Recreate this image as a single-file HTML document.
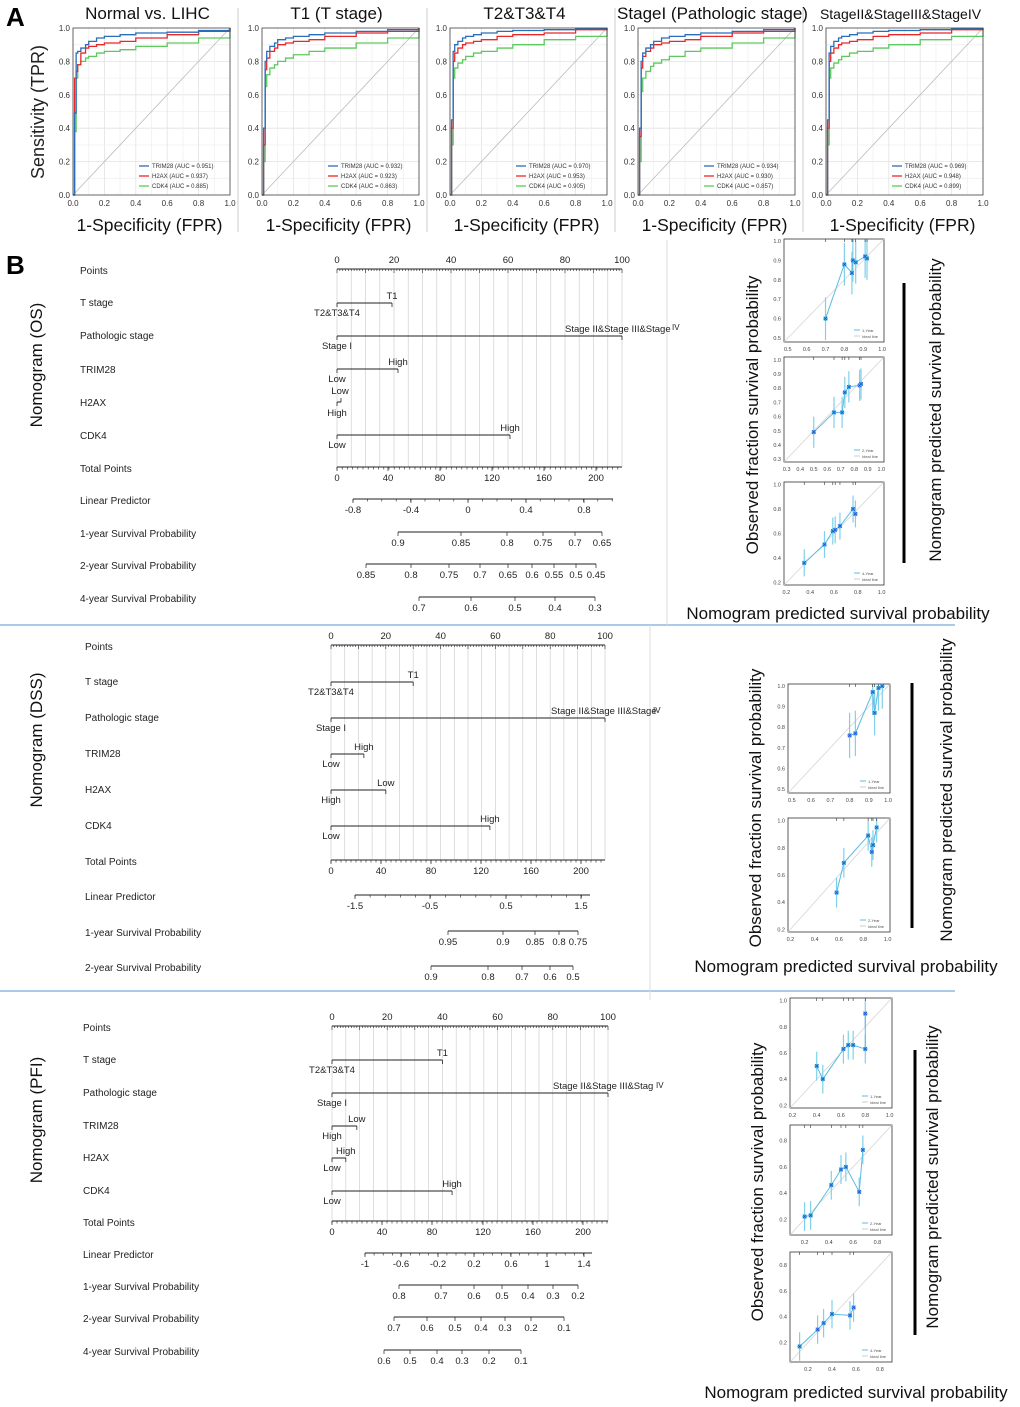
<!DOCTYPE html>
<html><head><meta charset="utf-8">
<style>
html,body{margin:0;padding:0;background:#fff;}
svg{display:block;font-family:"Liberation Sans",Arial,sans-serif;}
</style></head>
<body>
<svg id="fig" width="1020" height="1407" viewBox="0 0 1020 1407"></svg>
<script>
// ---------- ROC data ----------
const rocTitles=["Normal vs. LIHC","T1 (T stage)","T2&T3&T4","StageI (Pathologic stage)","StageII&StageIII&StageIV"];
const rocFpr=[0,0.01,0.02,0.03,0.05,0.08,0.1,0.15,0.2,0.3,0.4,0.6,0.8,1];
const trimTpr=[
[0,0.49,0.85,0.86,0.88,0.90,0.92,0.94,0.95,0.96,0.97,0.975,0.985,1],
[0,0.40,0.80,0.86,0.89,0.91,0.93,0.94,0.95,0.96,0.97,0.98,0.99,1],
[0,0.45,0.86,0.90,0.92,0.94,0.95,0.96,0.97,0.98,0.985,0.99,0.995,1],
[0,0.40,0.80,0.85,0.88,0.90,0.92,0.94,0.95,0.96,0.97,0.98,0.99,1],
[0,0.45,0.85,0.89,0.92,0.94,0.95,0.96,0.97,0.98,0.985,0.99,0.995,1]];
const h2axTpr=[
[0,0.70,0.74,0.78,0.85,0.88,0.89,0.90,0.91,0.92,0.94,0.96,0.98,1],
[0,0.30,0.75,0.82,0.86,0.88,0.90,0.91,0.92,0.93,0.95,0.97,0.98,1],
[0,0.40,0.80,0.85,0.88,0.90,0.91,0.92,0.93,0.95,0.96,0.97,0.99,1],
[0,0.35,0.76,0.83,0.86,0.88,0.90,0.91,0.92,0.93,0.95,0.97,0.98,1],
[0,0.40,0.80,0.85,0.88,0.90,0.91,0.92,0.93,0.95,0.96,0.97,0.99,1]];
const cdk4Tpr=[
[0,0.38,0.70,0.78,0.80,0.82,0.83,0.85,0.86,0.87,0.89,0.91,0.94,1],
[0,0.20,0.65,0.72,0.76,0.78,0.80,0.82,0.84,0.86,0.88,0.91,0.94,1],
[0,0.30,0.70,0.76,0.79,0.81,0.83,0.85,0.86,0.88,0.90,0.93,0.95,1],
[0,0.20,0.62,0.70,0.74,0.77,0.79,0.81,0.83,0.86,0.88,0.91,0.94,1],
[0,0.30,0.70,0.76,0.79,0.81,0.83,0.85,0.86,0.88,0.90,0.93,0.95,1]];
const aucTrim=["0.951","0.932","0.970","0.934","0.969"];
const aucH2ax=["0.937","0.923","0.953","0.930","0.948"];
const aucCdk4=["0.885","0.863","0.905","0.857","0.899"];
const rocTicks=[0,0.2,0.4,0.6,0.8,1.0];

// ---------- Calibration data ----------
const osPred1=[0.70,0.80,0.84,0.845,0.86,0.91,0.92], osObs1=[0.60,0.88,0.835,0.90,0.89,0.92,0.91];
const osPred2=[0.50,0.65,0.71,0.73,0.76,0.84,0.85], osObs2=[0.49,0.63,0.63,0.77,0.81,0.82,0.83];
const osPred3=[0.35,0.52,0.59,0.61,0.65,0.76,0.78], osObs3=[0.36,0.51,0.62,0.63,0.66,0.80,0.76];
const dssPred1=[0.80,0.83,0.92,0.93,0.95,0.97], dssObs1=[0.76,0.77,0.97,0.87,0.99,1.0];
const dssPred2=[0.58,0.64,0.84,0.87,0.88,0.91], dssObs2=[0.47,0.69,0.89,0.77,0.82,0.95];
const pfiPred1=[0.40,0.45,0.62,0.66,0.70,0.80,0.80], pfiObs1=[0.50,0.40,0.63,0.66,0.66,0.63,0.90];
const pfiPred2=[0.20,0.25,0.42,0.50,0.54,0.65,0.68], pfiObs2=[0.22,0.23,0.46,0.58,0.60,0.41,0.73];
const pfiPred3=[0.13,0.28,0.33,0.40,0.55,0.58], pfiObs3=[0.17,0.30,0.35,0.42,0.41,0.47];

const NS="http://www.w3.org/2000/svg";
const svg=document.getElementById('fig');
function mk(tag,a,p){const e=document.createElementNS(NS,tag);for(const k in a)e.setAttribute(k,a[k]);(p||svg).appendChild(e);return e;}
function T(p,x,y,s,size,anchor,extra){const e=mk('text',Object.assign({x:x,y:y,'font-size':size,'text-anchor':anchor||'start',fill:'#222'},extra||{}),p);e.textContent=s;return e;}
function L(p,x1,y1,x2,y2,c,w){return mk('line',{x1,y1,x2,y2,stroke:c||'#222','stroke-width':w||1},p);}
function grp(name){const g=mk('g',{});return g;}

// ---------- Panel A ----------
let lab=T(svg,6,26,"A",26,'start',{'font-weight':'bold',fill:'#000'});


let yl=T(svg,44,112,"Sensitivity (TPR)",18,'middle',{transform:'rotate(-90 44 112)'});


const rocX=[73,262,450,638,826];
const RW=157, RT=28, RH=167;
rocTitles.forEach((tt,i)=>{
  const g=grp('roc-plot-'+(i+1));
  const x0=rocX[i];
  const sx=v=>x0+v*RW, sy=v=>RT+RH-v*RH;
  if(i<4) L(g,x0+RW+8,8,x0+RW+8,232,'#ccc',1);
  mk('rect',{x:x0,y:RT,width:RW,height:RH,fill:'#fff',stroke:'none'},g);
  for(let k=0;k<=10;k++){const v=k/10;const c=k%2?'#f0f0f0':'#e2e2e2';
    L(g,sx(v),RT,sx(v),RT+RH,c,0.8);L(g,x0,sy(v),x0+RW,sy(v),c,0.8);}
  L(g,sx(0),sy(0),sx(1),sy(1),'#bbb',0.8);
  const series=[[cdk4Tpr[i],'#5cc95c'],[h2axTpr[i],'#e8282b'],[trimTpr[i],'#2a6ebb']];
  series.forEach(([tp,c])=>{
    let d='M'+sx(0)+' '+sy(0);let prev=0;
    for(let k=0;k<rocFpr.length;k++){d+=' L'+sx(rocFpr[k])+' '+sy(prev)+' L'+sx(rocFpr[k])+' '+sy(tp[k]);prev=tp[k];}
    const p=mk('path',{d:d,fill:'none',stroke:c,'stroke-width':1.3},g);
    
    
  });
  mk('rect',{x:x0,y:RT,width:RW,height:RH,fill:'none',stroke:'#444','stroke-width':0.8},g);
  rocTicks.forEach(v=>{
    T(g,sx(v),RT+RH+11,v.toFixed(1),8,'middle',{fill:'#333'});
    T(g,x0-3,sy(v)+3,v.toFixed(1),8,'end',{fill:'#333'});
  });
  const leg=[['TRIM28',aucTrim[i],'#2a6ebb'],['H2AX',aucH2ax[i],'#e8282b'],['CDK4',aucCdk4[i],'#5cc95c']];
  leg.forEach((l,k)=>{const ly=RT+RH-29+k*10;
    L(g,x0+66,ly,x0+76,ly,l[2],1.3);
    T(g,x0+79,ly+2,l[0]+' (AUC = '+l[1]+')',6,'start',{fill:'#333'});});
  T(g,x0+RW/2-4,19,tt,i===4?14:17,'middle',{fill:'#111'});
  T(g,x0+RW/2-2,231,"1-Specificity (FPR)",17.5,'middle',{fill:'#111'});
});

// ---------- Panel B ----------
lab=T(svg,6,274,"B",26,'start',{'font-weight':'bold',fill:'#000'});


let sep=L(svg,0,625,955,625,'#8fb8de',1.5);


sep=L(svg,0,991,955,991,'#8fb8de',1.5);


L(svg,667,240,667,625,'#ddd',1);
L(svg,650,625,650,1000,'#ddd',1);

function rowLabel(g,x,y,s){T(g,x,y+4,s,10,'start',{fill:'#222'});}
function pointsAxis(g,y,x0,x100){
  const sx=v=>x0+(x100-x0)*v/100;
  L(g,x0,y,x100,y,'#222',0.9);
  for(let v=0;v<=100;v++){const len=v%10===0?4:2;L(g,sx(v),y,sx(v),y+len,'#222',0.6);}
  for(let v=0;v<=100;v+=20)T(g,sx(v),y-6,String(v),9.5,'middle');
}
function grid(g,yTop,yBot,x0,x100){
  const sx=v=>x0+(x100-x0)*v/100;
  for(let v=0;v<=100;v+=5)L(g,sx(v),yTop,sx(v),yBot,'#d0d0d0',0.7);
}
function scaleAxis(g,y,ticks,xs,xEnd,minor){
  const xa=xs[0],xb=xEnd||xs[xs.length-1];
  L(g,xa,y,xb,y,'#222',0.9);
  if(minor){for(let x=xa;x<=xb+0.1;x+=minor)L(g,x,y,x,y+2.5,'#222',0.6);}
  ticks.forEach((t,k)=>{L(g,xs[k],y,xs[k],y+4,'#222',0.7);T(g,xs[k],y+14,t,9.5,'middle');});
}
function varLine(g,y,xa,xb,topLab,botLab,topX){
  L(g,xa,y,xb,y,'#222',1);L(g,xa,y,xa,y+4,'#222',0.8);L(g,xb,y,xb,y+4,'#222',0.8);
  if(topX!==undefined) T(g,topX,y-4,topLab,9.5,'start');
  else T(g,xb,y-4,topLab,9.5,'middle');
  T(g,xa,y+13,botLab,9.5,'middle');
}

// OS nomogram
(function(){
  const g=grp('nomogram-os');
  const x0=337,x100=622;const sx=v=>x0+(x100-x0)*v/100;
  grid(g,269,467,x0,x100);
  const lx=80;
  [["Points",270],["T stage",302],["Pathologic stage",335],["TRIM28",369],["H2AX",402],["CDK4",435],["Total Points",468],["Linear Predictor",500],["1-year Survival Probability",533],["2-year Survival Probability",565],["4-year Survival Probability",598]].forEach(r=>rowLabel(g,lx,r[1],r[0]));
  pointsAxis(g,269,x0,x100);
  varLine(g,303,x0,sx(19.3),"T1","T2&T3&T4");
  varLine(g,336,x0,x100,"Stage II&Stage III&Stage","Stage I",565);
  T(g,672,330,"IV",8,'start');
  varLine(g,369,x0,sx(21.4),"High","Low");
  L(g,x0,402,x0+4,402,'#222',1);L(g,x0+4,398,x0+4,402,'#222',0.8);L(g,x0,402,x0,406,'#222',0.8);
  T(g,x0+3,394,"Low",9.5,'middle');T(g,x0,416,"High",9.5,'middle');
  varLine(g,435,x0,sx(60.7),"High","Low");
  scaleAxis(g,467,["0","40","80","120","160","200"],[337,388,440,492,544,596],622,5.2);
  scaleAxis(g,499,["-0.8","-0.4","0","0.4","0.8"],[353,411,468,526,584],613,14.4);
  scaleAxis(g,532,["0.9","0.85","0.8","0.75","0.7","0.65"],[398,461,507,543,575,602]);
  scaleAxis(g,564,["0.85","0.8","0.75","0.7","0.65","0.6","0.55","0.5","0.45"],[366,411,449,480,508,532,554,576,596]);
  scaleAxis(g,597,["0.7","0.6","0.5","0.4","0.3"],[419,471,515,555,595]);
  T(g,42,365,"Nomogram (OS)",17,'middle',{transform:'rotate(-90 42 365)',fill:'#111'});
})();

// DSS nomogram
(function(){
  const g=grp('nomogram-dss');
  const x0=331,x100=605;const sx=v=>x0+(x100-x0)*v/100;
  grid(g,645,860,x0,x100);
  const lx=85;
  [["Points",646],["T stage",681],["Pathologic stage",717],["TRIM28",753],["H2AX",789],["CDK4",825],["Total Points",861],["Linear Predictor",896],["1-year Survival Probability",932],["2-year Survival Probability",967]].forEach(r=>rowLabel(g,lx,r[1],r[0]));
  pointsAxis(g,645,x0,x100);
  varLine(g,682,x0,sx(30),"T1","T2&T3&T4");
  varLine(g,718,x0,x100,"Stage II&Stage III&Stage","Stage I",551);
  T(g,653,713,"IV",8,'start');
  varLine(g,754,x0,sx(12),"High","Low");
  varLine(g,790,x0,sx(20),"Low","High");
  varLine(g,826,x0,sx(58),"High","Low");
  scaleAxis(g,860,["0","40","80","120","160","200"],[331,381,431,481,531,581],605,5);
  scaleAxis(g,895,["-1.5","-0.5","0.5","1.5"],[355,430,506,581],590,15.1);
  scaleAxis(g,931,["0.95","0.9","0.85","0.8","0.75"],[448,503,535,559,578]);
  scaleAxis(g,966,["0.9","0.8","0.7","0.6","0.5"],[431,488,522,550,573]);
  T(g,42,740,"Nomogram (DSS)",17,'middle',{transform:'rotate(-90 42 740)',fill:'#111'});
})();

// PFI nomogram
(function(){
  const g=grp('nomogram-pfi');
  const x0=332,x100=608;const sx=v=>x0+(x100-x0)*v/100;
  grid(g,1026,1221,x0,x100);
  const lx=83;
  [["Points",1027],["T stage",1059],["Pathologic stage",1092],["TRIM28",1125],["H2AX",1157],["CDK4",1190],["Total Points",1222],["Linear Predictor",1254],["1-year Survival Probability",1286],["2-year Survival Probability",1318],["4-year Survival Probability",1351]].forEach(r=>rowLabel(g,lx,r[1],r[0]));
  pointsAxis(g,1026,x0,x100);
  varLine(g,1060,x0,sx(40),"T1","T2&T3&T4");
  varLine(g,1093,x0,x100,"Stage II&Stage III&Stag","Stage I",553);
  T(g,656,1088,"IV",8,'start');
  varLine(g,1126,x0,sx(9),"Low","High");
  varLine(g,1158,x0,sx(5),"High","Low");
  varLine(g,1191,x0,sx(43.5),"High","Low");
  scaleAxis(g,1221,["0","40","80","120","160","200"],[332,382,432,483,533,583],608,5);
  scaleAxis(g,1253,["-1","-0.6","-0.2","0.2","0.6","1","1.4"],[365,401,438,474,511,547,584],592,9.1);
  scaleAxis(g,1285,["0.8","0.7","0.6","0.5","0.4","0.3","0.2"],[399,441,474,502,528,553,578]);
  scaleAxis(g,1317,["0.7","0.6","0.5","0.4","0.3","0.2","0.1"],[394,427,455,481,505,531,564]);
  scaleAxis(g,1350,["0.6","0.5","0.4","0.3","0.2","0.1"],[384,410,437,462,489,521]);
  T(g,42,1120,"Nomogram (PFI)",17,'middle',{transform:'rotate(-90 42 1120)',fill:'#111'});
})();

// ---------- Calibration plots ----------
function calib(name,x0,y0,w,h,dmin,dmax,ticks,pred,obs,legendLabel){
  const g=grp(name);
  const sx=v=>x0+(v-dmin)/(dmax-dmin)*w, sy=v=>y0+h-(v-dmin)/(dmax-dmin)*h;
  mk('rect',{x:x0,y:y0,width:w,height:h,fill:'#fff',stroke:'#333','stroke-width':0.8},g);
  L(g,x0,y0+h,x0+w,y0,'#d5d5d5',0.8);
  ticks.forEach(t=>{T(g,sx(t),y0+h+9,t.toFixed(1),5.5,'middle',{fill:'#444'});
    if(sy(t)>=y0-1&&sy(t)<=y0+h+1)T(g,x0-3,sy(t)+2,t.toFixed(1),5.5,'end',{fill:'#444'});});
  pred.forEach((p,k)=>{
    L(g,sx(p),sy(Math.max(dmin,obs[k]-0.11)),sx(p),sy(Math.min(dmax,obs[k]+0.11)),'#7fd0ea',1.2);
    L(g,sx(p),y0,sx(p),y0+3,'#333',0.6);
  });
  const pts=pred.map((p,k)=>sx(p)+','+sy(obs[k])).join(' ');
  const pl=mk('polyline',{points:pts,fill:'none',stroke:'#57bde3','stroke-width':1},g);
  
  
  pred.forEach((p,k)=>{
    mk('circle',{cx:sx(p),cy:sy(obs[k]),r:2.2,fill:'#39b8d8'},g);
    T(g,sx(p),sy(obs[k])+3,'×',9,'middle',{fill:'#2a3fe0'});
  });
  L(g,x0+w-30,y0+h-12,x0+w-24,y0+h-12,'#57bde3',1);
  T(g,x0+w-22,y0+h-10,legendLabel,4,'start',{fill:'#555'});
  L(g,x0+w-30,y0+h-6,x0+w-24,y0+h-6,'#ccc',1);
  T(g,x0+w-22,y0+h-4,'Ideal line',4,'start',{fill:'#555'});
}
calib('calibration-os-1year',784,239,100,103,0.48,1.01,[0.5,0.6,0.7,0.8,0.9,1.0],osPred1,osObs1,'1-Year');
calib('calibration-os-2year',784,357,100,105,0.28,1.02,[0.3,0.4,0.5,0.6,0.7,0.8,0.9,1.0],osPred2,osObs2,'2-Year');
calib('calibration-os-4year',784,482,100,103,0.18,1.02,[0.2,0.4,0.6,0.8,1.0],osPred3,osObs3,'4-Year');
calib('calibration-dss-1year',788,684,102,109,0.48,1.01,[0.5,0.6,0.7,0.8,0.9,1.0],dssPred1,dssObs1,'1-Year');
calib('calibration-dss-2year',788,818,102,114,0.18,1.02,[0.2,0.4,0.6,0.8,1.0],dssPred2,dssObs2,'2-Year');
calib('calibration-pfi-1year',790,998,102,110,0.18,1.02,[0.2,0.4,0.6,0.8,1.0],pfiPred1,pfiObs1,'1-Year');
calib('calibration-pfi-2year',790,1125,102,110,0.08,0.92,[0.2,0.4,0.6,0.8],pfiPred2,pfiObs2,'2-Year');
calib('calibration-pfi-4year',790,1252,102,110,0.05,0.9,[0.2,0.4,0.6,0.8],pfiPred3,pfiObs3,'4-Year');

function calibLabels(name,ox,oy,rx,ry,barX,barY1,barY2,bx,by){
  const g=grp(name);
  T(g,ox,oy,"Observed fraction survival probability",17,'middle',{transform:'rotate(-90 '+ox+' '+oy+')',fill:'#111'});
  T(g,rx,ry,"Nomogram predicted survival probability",17,'middle',{transform:'rotate(-90 '+rx+' '+ry+')',fill:'#111'});
  L(g,barX,barY1,barX,barY2,'#000',3);
  T(g,bx,by,"Nomogram predicted survival probability",17,'middle',{fill:'#111'});
}
calibLabels('calibration-labels-os',758,415,941,410,904,283,563,838,619);
calibLabels('calibration-labels-dss',761,808,952,790,912,683,928,846,972);
calibLabels('calibration-labels-pfi',763,1182,938,1177,915,1050,1335,856,1398);
</script>
</body></html>
